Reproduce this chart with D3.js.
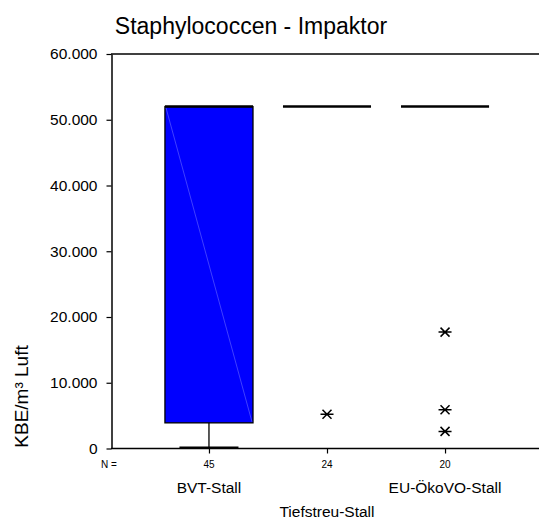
<!DOCTYPE html>
<html><head><meta charset="utf-8">
<script src="https://cdn.jsdelivr.net/npm/d3@7"></script>
<style>body{margin:0;background:#fff}svg{display:block;font-family:Arial,"Liberation Sans",sans-serif}</style>
</head><body>
<svg id="c" width="539" height="521"></svg>
<script>
const categories = ["BVT-Stall", "Tiefstreu-Stall", "EU-ÖkoVO-Stall"];
const counts = [45, 24, 20];
const q1 = [3900, 52000, 52000];
const median = [52000, 52000, 52000];
const q3 = [52000, 52000, 52000];
const whiskerLow = [150, 52000, 52000];
const whiskerHigh = [52000, 52000, 52000];
const outlierCat = ["Tiefstreu-Stall", "EU-ÖkoVO-Stall", "EU-ÖkoVO-Stall", "EU-ÖkoVO-Stall"];
const outlierVal = [5200, 17700, 5900, 2600];
const yTicks = [0, 10000, 20000, 30000, 40000, 50000, 60000];

const svg = d3.select("#c");
const x = d3.scalePoint().domain(categories).range([111, 543]).padding(0.83);
const step = x.step();
const y = d3.scaleLinear().domain([0, 60000]).range([448.5, 54]);
const loc = d3.formatLocale({decimal: ",", thousands: ".", grouping: [3], currency: ["", ""]});
const fmt = loc.format(",");

// title
svg.append("text").attr("x", 251).attr("y", 34).attr("text-anchor", "middle")
  .attr("font-size", 23).text("Staphylococcen - Impaktor");

// top frame line
svg.append("line").attr("x1", 111).attr("x2", 539).attr("y1", y(60000)).attr("y2", y(60000))
  .attr("stroke", "#404040").attr("stroke-width", 2);

// y axis
const ya = svg.append("g").attr("transform", "translate(111.5,0)")
  .call(d3.axisLeft(y).tickValues(yTicks).tickFormat(fmt).tickSize(5).tickPadding(9).tickSizeOuter(0));
ya.select(".domain").attr("stroke", "#000").attr("stroke-width", 1.5);
ya.selectAll(".tick line").attr("stroke", "#000").attr("stroke-width", 1.2);
ya.selectAll(".tick text").attr("font-size", 15.5).attr("fill", "#000").attr("font-family", "Arial,'Liberation Sans',sans-serif");

// y axis title
svg.append("text").attr("transform", "translate(28,396.5) rotate(-90)").attr("text-anchor", "middle")
  .attr("font-size", 19).text("KBE/m³ Luft");

// boxes
categories.forEach((c, i) => {
  const cx = x(c);
  const bw = step * 0.746, cw = step * 0.5;
  if (whiskerLow[i] < q1[i]) {
    svg.append("line").attr("x1", cx).attr("x2", cx).attr("y1", y(q1[i])).attr("y2", y(whiskerLow[i]))
      .attr("stroke", "#000").attr("stroke-width", 1.3);
    svg.append("line").attr("x1", cx - cw / 2).attr("x2", cx + cw / 2).attr("y1", y(whiskerLow[i])).attr("y2", y(whiskerLow[i]))
      .attr("stroke", "#000").attr("stroke-width", 2);
  }
  if (whiskerHigh[i] > q3[i]) {
    svg.append("line").attr("x1", cx).attr("x2", cx).attr("y1", y(q3[i])).attr("y2", y(whiskerHigh[i]))
      .attr("stroke", "#000").attr("stroke-width", 1.3);
  }
  if (q3[i] > q1[i]) {
    svg.append("rect").attr("x", cx - bw / 2).attr("y", y(q3[i])).attr("width", bw).attr("height", y(q1[i]) - y(q3[i]))
      .attr("fill", "#0000ff").attr("stroke", "#000").attr("stroke-width", 1.3);
    svg.append("line").attr("x1", cx - bw / 2 + 1).attr("y1", y(q3[i]) + 1).attr("x2", cx + bw / 2 - 1).attr("y2", y(q1[i]) - 1)
      .attr("stroke", "#5a5aff").attr("stroke-width", 0.7);
  }
  svg.append("line").attr("x1", cx - bw / 2).attr("x2", cx + bw / 2).attr("y1", y(median[i])).attr("y2", y(median[i]))
    .attr("stroke", "#000").attr("stroke-width", 2.5);
});

// outliers (asterisks)
const star = "M-6.5,0H6.5M-4.5,-4.5L4.5,4.5M-4.5,4.5L4.5,-4.5";
outlierVal.forEach((v, k) => {
  svg.append("path").attr("d", star).attr("transform", `translate(${x(outlierCat[k])},${y(v)})`)
    .attr("fill", "none").attr("stroke", "#000").attr("stroke-width", 1.5);
});

// x axis
const xa = svg.append("g").attr("transform", `translate(0,${y(0)})`)
  .call(d3.axisBottom(x).tickSize(5).tickFormat("").tickSizeOuter(0));
xa.select(".domain").attr("d", "M111,0H539").attr("stroke", "#000").attr("stroke-width", 1.5);
xa.selectAll(".tick line").attr("stroke", "#000").attr("stroke-width", 1.2);

// N counts
svg.append("text").attr("x", 109).attr("y", 467.5).attr("text-anchor", "middle").attr("font-size", 10).text("N =");
categories.forEach((c, i) => {
  svg.append("text").attr("x", x(c)).attr("y", 467.5).attr("text-anchor", "middle").attr("font-size", 10).text(counts[i]);
  svg.append("text").attr("x", x(c)).attr("y", i % 2 === 0 ? 493 : 517).attr("text-anchor", "middle")
    .attr("font-size", 15.5).text(c);
});
</script>
</body></html>
